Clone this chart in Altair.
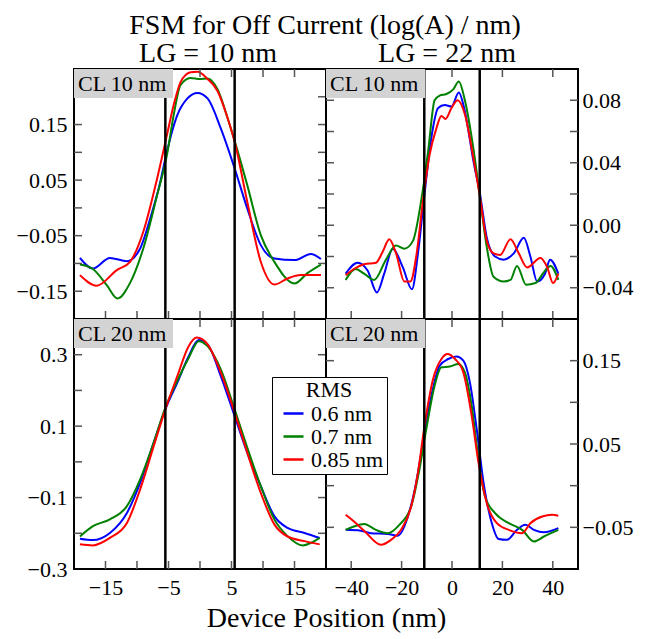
import altair as alt
import pandas as pd

FONT = "Liberation Serif"
RMS = ["0.6 nm", "0.7 nm", "0.85 nm"]
COLORS = ["#0000ff", "#008000", "#ff0000"]
TICK = "#555555"
W, H = 252, 250

# ---- top-left: LG 10 nm, CL 10 nm ----
tl_blue_x = [-19.06, -17.0, -14.3, -11.6, -9.5, -7.9, -6.3, -5.5, -3.6, -2.0, -0.4, 1.2, 3.3, 5.5, 7.5, 9.65, 11.8, 15.0, 17.6, 19.2]
tl_blue_y = [-0.090, -0.109, -0.090, -0.096, -0.073, -0.019, 0.047, 0.089, 0.167, 0.197, 0.207, 0.197, 0.143, 0.071, -0.001, -0.067, -0.091, -0.094, -0.083, -0.092]
tl_green_x = [-19.06, -17.0, -14.8, -13.1, -11.1, -9.0, -6.8, -5.25, -4.18, -3.1, -1.5, 0.0, 1.2, 2.8, 4.4, 5.7, 7.5, 9.65, 11.8, 15.0, 17.1, 19.2]
tl_green_y = [-0.102, -0.110, -0.139, -0.163, -0.135, -0.073, 0.023, 0.095, 0.167, 0.221, 0.234, 0.232, 0.233, 0.213, 0.161, 0.113, 0.041, -0.049, -0.097, -0.136, -0.117, -0.102]
tl_red_x = [-19.06, -16.4, -13.2, -11.1, -9.0, -6.8, -5.25, -4.18, -3.1, -1.5, -0.4, 1.2, 2.8, 4.4, 5.5, 7.5, 9.65, 11.8, 13.9, 16.0, 19.2]
tl_red_y = [-0.121, -0.140, -0.112, -0.097, -0.043, 0.053, 0.131, 0.185, 0.226, 0.244, 0.245, 0.232, 0.210, 0.161, 0.119, 0.011, -0.097, -0.138, -0.127, -0.121, -0.121]

# ---- top-right: LG 22 nm, CL 10 nm ----
tr_blue_x = [-42.2, -37.5, -33.5, -29.8, -26.9, -23.5, -19.5, -15.9, -13.5, -10.9, -8.2, -5.5, -2.9, -0.2, 2.7, 5.1, 8.5, 11.1, 13.8, 17.1, 20.5, 24.5, 28.5, 31.1, 33.8, 36.9, 38.9, 42.2]
tr_blue_y = [-0.031, -0.024, -0.029, -0.043, -0.031, -0.015, -0.027, -0.041, -0.018, 0.020, 0.056, 0.075, 0.077, 0.076, 0.085, 0.073, 0.041, 0.020, -0.008, -0.020, -0.022, -0.018, -0.008, -0.020, -0.036, -0.031, -0.022, -0.031]
tr_green_x = [-42.2, -38.2, -34.9, -30.9, -26.2, -22.2, -18.9, -15.5, -12.2, -9.5, -6.9, -4.9, -2.2, 0.5, 2.7, 5.1, 8.5, 11.1, 13.8, 16.5, 20.5, 23.2, 25.8, 29.4, 33.1, 36.5, 39.1, 42.2]
tr_green_y = [-0.035, -0.028, -0.031, -0.035, -0.022, -0.013, -0.015, -0.010, 0.016, 0.047, 0.080, 0.083, 0.084, 0.087, 0.092, 0.080, 0.049, 0.018, -0.014, -0.033, -0.036, -0.035, -0.026, -0.038, -0.037, -0.030, -0.026, -0.035]
tr_red_x = [-42.2, -38.9, -34.9, -30.2, -27.5, -24.9, -22.2, -18.9, -16.5, -14.2, -11.5, -8.9, -6.2, -4.2, -2.6, -0.2, 2.2, 5.1, 8.5, 11.1, 13.8, 16.5, 19.1, 23.2, 26.5, 29.8, 35.1, 37.8, 40.1, 42.2]
tr_red_y = [-0.032, -0.028, -0.025, -0.024, -0.017, -0.009, -0.018, -0.036, -0.036, -0.020, 0.016, 0.045, 0.062, 0.070, 0.068, 0.075, 0.080, 0.071, 0.043, 0.018, -0.010, -0.018, -0.019, -0.009, -0.018, -0.027, -0.021, -0.027, -0.037, -0.031]

# ---- bottom-left: LG 10 nm, CL 20 nm ----
bl_blue_x = [-19.06, -17.0, -14.3, -11.6, -9.5, -7.35, -5.5, -3.6, -1.8, -0.2, 1.2, 3.3, 5.5, 7.5, 9.65, 11.8, 13.9, 16.6, 19.0]
bl_blue_y = [-0.215, -0.219, -0.199, -0.143, -0.059, 0.054, 0.147, 0.222, 0.296, 0.341, 0.329, 0.240, 0.128, 0.026, -0.068, -0.152, -0.185, -0.199, -0.213]
bl_green_x = [-19.06, -17.0, -14.3, -11.6, -9.5, -7.35, -5.5, -3.6, -1.8, -0.2, 1.2, 3.3, 5.5, 7.5, 9.65, 11.8, 13.9, 16.3, 19.0]
bl_green_y = [-0.209, -0.180, -0.161, -0.124, -0.049, 0.054, 0.152, 0.227, 0.291, 0.338, 0.324, 0.259, 0.147, 0.040, -0.068, -0.161, -0.208, -0.234, -0.213]
bl_red_x = [-19.06, -17.0, -14.3, -11.6, -9.5, -7.35, -5.5, -3.6, -1.8, -0.5, 1.2, 3.3, 5.5, 7.5, 9.65, 11.8, 13.9, 16.6, 19.0]
bl_red_y = [-0.231, -0.234, -0.213, -0.171, -0.077, 0.044, 0.147, 0.240, 0.324, 0.348, 0.329, 0.250, 0.138, 0.026, -0.087, -0.175, -0.209, -0.222, -0.231]

# ---- bottom-right: LG 22 nm, CL 20 nm ----
br_blue_x = [-42.2, -36.2, -32.2, -25.5, -21.5, -17.5, -14.2, -11.5, -8.2, -4.9, -1.5, 1.8, 4.5, 7.1, 9.8, 12.5, 15.8, 18.5, 21.8, 25.8, 29.1, 32.5, 36.5, 42.2]
br_blue_y = [-0.053, -0.054, -0.057, -0.058, -0.060, -0.037, 0.004, 0.052, 0.108, 0.144, 0.152, 0.155, 0.150, 0.124, 0.068, 0.004, -0.045, -0.064, -0.065, -0.053, -0.047, -0.053, -0.056, -0.051]
br_green_x = [-42.2, -38.9, -34.9, -30.2, -25.5, -20.9, -16.2, -12.9, -10.2, -6.9, -4.2, -0.9, 2.5, 5.1, 7.8, 10.5, 13.1, 17.1, 22.5, 27.8, 32.5, 36.5, 42.2]
br_green_y = [-0.053, -0.049, -0.046, -0.053, -0.057, -0.047, -0.025, 0.020, 0.068, 0.120, 0.142, 0.143, 0.146, 0.136, 0.096, 0.032, -0.013, -0.033, -0.045, -0.053, -0.067, -0.061, -0.053]
br_red_x = [-42.2, -38.9, -34.9, -28.2, -24.2, -20.2, -16.2, -13.5, -10.9, -7.5, -4.2, -1.8, 1.2, 4.5, 7.8, 10.5, 13.8, 17.8, 22.5, 27.8, 31.1, 35.8, 39.8, 42.2]
br_red_y = [-0.035, -0.043, -0.054, -0.071, -0.065, -0.053, -0.025, 0.016, 0.072, 0.128, 0.152, 0.158, 0.152, 0.136, 0.084, 0.028, -0.021, -0.045, -0.053, -0.057, -0.045, -0.037, -0.035, -0.036]

# axis ticks / labels
left_x_ticks = [-15, -10, -5, 0, 5, 10, 15]
left_x_labels = [-15, -5, 5, 15]
right_x_ticks = [-40, -20, 0, 20, 40]
right_x_labels = [-40, -20, 0, 20, 40]
tl_y_ticks = [-0.15, -0.1, -0.05, 0.0, 0.05, 0.1, 0.15, 0.2]
tl_y_labels = [-0.15, -0.05, 0.05, 0.15]
tr_y_ticks = [-0.04, -0.02, 0.0, 0.02, 0.04, 0.06, 0.08]
tr_y_labels = [-0.04, 0.0, 0.04, 0.08]
bl_y_ticks = [-0.2, -0.1, 0.0, 0.1, 0.2, 0.3]
bl_y_labels = [-0.3, -0.1, 0.1, 0.3]
br_y_ticks = [-0.05, 0.0, 0.05, 0.1, 0.15]
br_y_labels = [-0.05, 0.05, 0.15]
left_gate = [-5.5, 5.5]
right_gate = [-11, 11]

LEGEND = alt.Legend(
    orient="none", legendX=198, legendY=308, title="RMS",
    titleFont=FONT, titleFontSize=22, titleFontWeight="normal", titleColor="black",
    titleAnchor="middle", titlePadding=0,
    labelFont=FONT, labelFontSize=22, labelColor="black", labelOffset=6,
    symbolType="stroke", symbolSize=400, symbolStrokeWidth=2.5, symbolOffset=7,
    rowPadding=0, padding=3, fillColor="white", strokeColor="black",
    cornerRadius=0,
)


def curves(bx, by, gx, gy, rx, ry):
    frames = []
    for xs, ys, name in ((bx, by, RMS[0]), (gx, gy, RMS[1]), (rx, ry, RMS[2])):
        frames.append(pd.DataFrame({"x": xs, "y": ys, "rms": name}))
    return pd.concat(frames, ignore_index=True)


def panel(df, xdom, ydom, gate, xticks, xlabels, yticks, ylabels, yorient, yfmt,
          show_x, cl, title_text=None, title_dx=0, xtitle=None):
    xscale = alt.Scale(domain=xdom, nice=False, zero=False)
    yscale = alt.Scale(domain=ydom, nice=False, zero=False)
    if show_x:
        xaxis_kw = dict(values=xlabels, format="d", ticks=False, domain=False, grid=False,
                        labelFont=FONT, labelFontSize=22, labelColor="black", labelPadding=8,
                        labelFlush=False)
        if xtitle:
            xaxis_kw.update(titleFont=FONT, titleFontSize=28, titleFontWeight="normal",
                            titleColor="black", titleX=W, titlePadding=6)
        xenc = alt.X("x:Q", scale=xscale, axis=alt.Axis(**xaxis_kw), title=xtitle if xtitle else None)
    else:
        xenc = alt.X("x:Q", scale=xscale, axis=None)
    ext = 60 if yorient == "left" else 58
    yaxis = alt.Axis(orient=yorient, values=ylabels, format=yfmt, ticks=False, domain=False,
                     grid=False, labelFont=FONT, labelFontSize=22, labelColor="black",
                     labelPadding=7 if yorient == "left" else 4, minExtent=ext, maxExtent=ext,
                     labelFlush=False)
    yenc = alt.Y("y:Q", scale=yscale, axis=yaxis, title=None)

    lines = alt.Chart(df).mark_line(strokeWidth=2, interpolate="monotone", clip=True).encode(
        x=xenc, y=yenc,
        color=alt.Color("rms:N", scale=alt.Scale(domain=RMS, range=COLORS), legend=LEGEND),
    )
    gates = alt.Chart(pd.DataFrame({"x": gate})).mark_rule(color="black", strokeWidth=2.5).encode(x=xenc)
    lab = alt.Chart(pd.DataFrame({"t": [cl]}))
    box = lab.mark_rect(color="#d3d3d3").encode(
        x=alt.value(0), x2=alt.value(99), y=alt.value(0), y2=alt.value(29))
    txt = lab.mark_text(align="left", baseline="alphabetic", font=FONT, fontSize=22, color="black").encode(
        x=alt.value(4), y=alt.value(22), text="t:N")
    xt = alt.Chart(pd.DataFrame({"x": xticks}))
    yt = alt.Chart(pd.DataFrame({"y": yticks}))
    tk = dict(color=TICK, strokeWidth=1.5)
    t_top = xt.mark_rule(**tk).encode(x=xenc, y=alt.value(0), y2=alt.value(8))
    t_bot = xt.mark_rule(**tk).encode(x=xenc, y=alt.value(H), y2=alt.value(H - 8))
    t_lft = yt.mark_rule(**tk).encode(y=yenc, x=alt.value(0), x2=alt.value(8))
    t_rgt = yt.mark_rule(**tk).encode(y=yenc, x=alt.value(W), x2=alt.value(W - 8))
    props = dict(width=W, height=H)
    if title_text:
        props["title"] = alt.TitleParams(text=title_text, font=FONT, fontSize=28, fontWeight="normal",
                                         color="black", anchor="middle", dx=title_dx, offset=0)
    return alt.layer(lines, gates, t_top, t_bot, t_lft, t_rgt, box, txt).properties(**props)


tl = panel(curves(tl_blue_x, tl_blue_y, tl_green_x, tl_green_y, tl_red_x, tl_red_y),
           [-20, 20], [-0.2, 0.25], left_gate, left_x_ticks, left_x_labels, tl_y_ticks, tl_y_labels,
           "left", ".2f", False, "CL 10 nm", "LG = 10 nm", 8)
tr = panel(curves(tr_blue_x, tr_blue_y, tr_green_x, tr_green_y, tr_red_x, tr_red_y),
           [-50, 50], [-0.06, 0.1], right_gate, right_x_ticks, right_x_labels, tr_y_ticks, tr_y_labels,
           "right", ".2f", False, "CL 10 nm", "LG = 22 nm", -5)
bl = panel(curves(bl_blue_x, bl_blue_y, bl_green_x, bl_green_y, bl_red_x, bl_red_y),
           [-20, 20], [-0.3, 0.4], left_gate, left_x_ticks, left_x_labels, bl_y_ticks, bl_y_labels,
           "left", ".1f", True, "CL 20 nm", xtitle="Device Position (nm)")
br = panel(curves(br_blue_x, br_blue_y, br_green_x, br_green_y, br_red_x, br_red_y),
           [-50, 50], [-0.1, 0.2], right_gate, right_x_ticks, right_x_labels, br_y_ticks, br_y_labels,
           "right", ".2f", True, "CL 20 nm")

chart = alt.concat(tl, tr, bl, br, columns=2, spacing=0, bounds="flush").properties(
    title=alt.TitleParams(text="FSM for Off Current (log(A) / nm)", font=FONT, fontSize=28,
                          fontWeight="normal", color="black", anchor="middle", offset=-1),
    padding={"left": 5, "top": 3, "right": 5, "bottom": 5},
).configure_view(stroke="black", strokeWidth=2)

chart.save("out.html", embed_options={"renderer": "svg", "actions": False})
